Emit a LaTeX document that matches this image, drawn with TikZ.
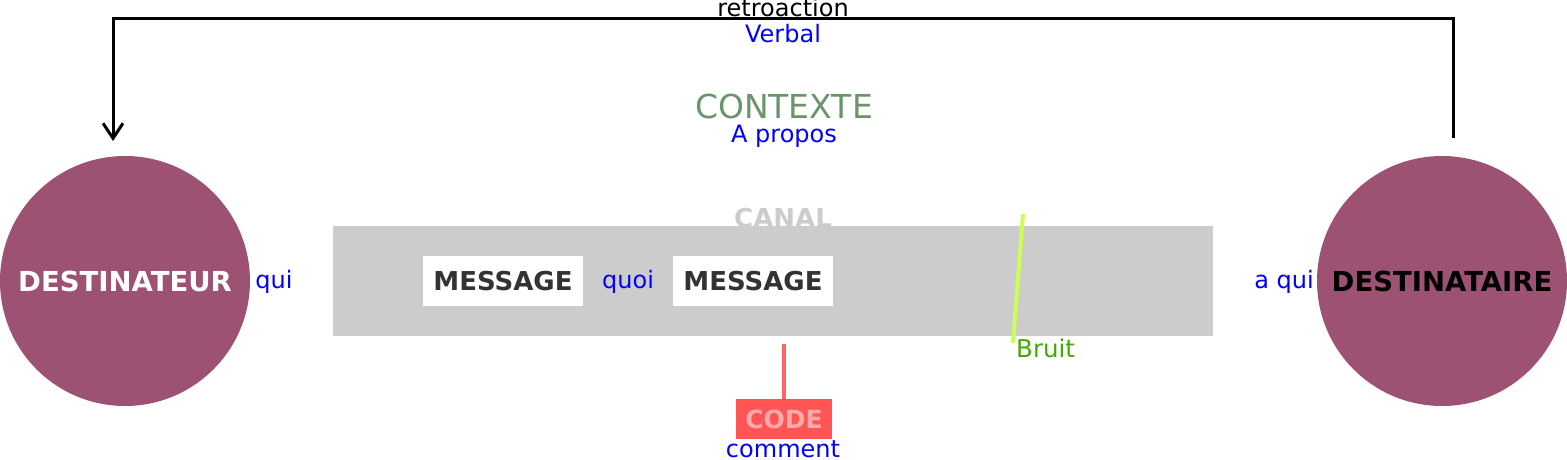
\documentclass[tikz,border=0pt]{standalone}
\usepackage{fontspec}
\setmainfont{DejaVu Sans}
\usetikzlibrary{arrows.meta}
\definecolor{personacol}{RGB}{158,82,115}
\definecolor{canalcol}{RGB}{204,204,204}
\definecolor{msgcol}{RGB}{51,51,51}
\definecolor{contextcol}{RGB}{106,148,106}
\definecolor{noisecol}{RGB}{204,255,85}
\definecolor{noisetext}{RGB}{68,170,0}
\definecolor{codecol}{RGB}{255,85,85}
\definecolor{codeline}{RGB}{255,102,102}
\definecolor{codetext}{RGB}{255,170,170}
\tikzstyle{persona}=[circle, fill=personacol, minimum size=250pt, inner sep=0pt, font=\fontsize{27.5}{30}\selectfont\bfseries]
\tikzstyle{msgbox}=[fill=white, minimum width=160pt, minimum height=50pt, inner sep=0pt, text=msgcol, font=\fontsize{26}{30}\selectfont\bfseries]
\tikzstyle{hint}=[anchor=base, inner sep=0pt, text=blue, font=\fontsize{24}{28}\selectfont]
\tikzstyle{plain}=[anchor=base, inner sep=0pt, font=\fontsize{24}{28}\selectfont]

\begin{document}
\begin{tikzpicture}[x=1pt, y=-1pt]
        \useasboundingbox (0, 0) rectangle (1567, 460);
        \node[persona, text=white] (src) at (125, 281) {DESTINATEUR};
        \node[persona, text=black] (dst) at (1442, 281) {DESTINATAIRE};
        \node[fill=canalcol, minimum width=880pt, minimum height=110pt, inner sep=0pt] (canal) at (773, 281) {};
        \node[msgbox] (msgA) at (503, 281) {MESSAGE};
        \node[msgbox] (msgB) at (753, 281) {MESSAGE};
        \node[hint] (qui) at (274, 288) {qui};
        \node[hint] (quoi) at (628, 288) {quoi};
        \node[hint] (aqui) at (1284, 288) {a qui};
        \node[anchor=base, inner sep=0pt, text=canalcol, font=\fontsize{26}{30}\selectfont\bfseries] (canaltxt) at (783, 227) {CANAL};
        \node[anchor=base, inner sep=0pt, text=contextcol, font=\fontsize{33}{36}\selectfont] (ctx) at (784, 118) {CONTEXTE};
        \node[hint] (apropos) at (784, 142) {A propos};
        \node[plain] (retro) at (783, 17) {retroaction};
        \node[hint] (verbal) at (783, 43) {Verbal};
        \node[fill=codecol, text=codetext, minimum width=96pt, minimum height=40pt, inner sep=0pt, font=\fontsize{25}{28}\selectfont\bfseries] (code) at (784, 419) {CODE};
        \node[hint] (comment) at (783, 457) {comment};
        \node[anchor=base west, inner sep=0pt, text=noisetext, font=\fontsize{24.5}{28}\selectfont] (bruit) at (1016, 357) {Bruit};
        \coordinate (fbStart) at (1453, 138);
        \coordinate (fbEnd) at (113, 141);
        \coordinate (codeTop) at (784, 344);
        \coordinate (noiseTop) at (1023, 214);
        \coordinate (noiseBot) at (1013, 343);
        \draw[line width=3pt, -{Straight Barb[length=15pt, width=20pt]}] (fbStart) |- (783, 19) -| (fbEnd);
        \draw[line width=4pt, noisecol] (noiseTop) -- (noiseBot);
        \draw[line width=4pt, codeline] (codeTop) -- (code.north);
    \end{tikzpicture}
\end{document}
